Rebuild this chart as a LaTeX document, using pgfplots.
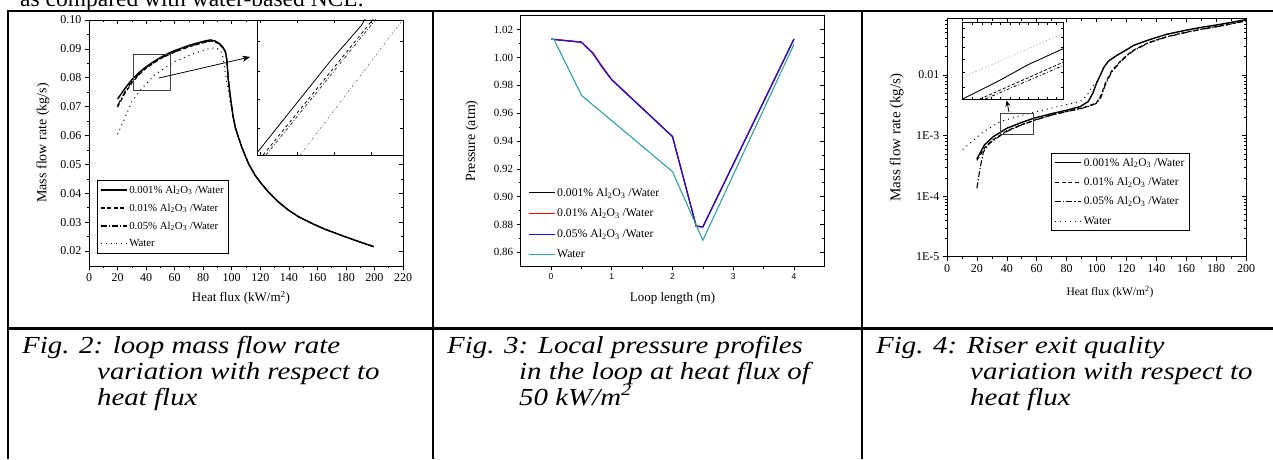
\documentclass[border=0pt]{standalone}
\usepackage{pgfplots}
\pgfplotsset{compat=1.18}
\usepackage{fontspec}
\setmainfont{Liberation Serif}
\newfontfamily\arialfont{Liberation Sans}
\newfontfamily\capfont[FakeStretch=1.18]{Liberation Serif}
\usetikzlibrary{arrows.meta}
\newcommand{\fs}[1]{\fontsize{#1}{#1}\selectfont}
\definecolor{teal2}{RGB}{50,160,160}
\definecolor{blue2}{RGB}{20,20,220}

\pgfplotsset{
  base/.style={scale only axis, axis line style={line width=0.9pt},
    every tick/.style={black, line width=0.6pt}, major tick length=4pt, minor tick length=2.2pt,
    /pgf/number format/assume math mode=true, scaled ticks=false,
    ticklabel style={font=\fs{12}}, label style={font=\fs{13.5}}},
  outerax/.style={base, tick align=outside, tick pos=left},
  innerax/.style={base, tick align=inside, axis x line*=top, axis y line*=right,
    xticklabels={}, yticklabels={}},
  legimg/.style={legend image code/.code={\draw[##1] (0pt,0pt) -- (26pt,0pt);}},
  s1/.style={black, line width=1.4pt},
  s2/.style={black, line width=1.1pt, dash pattern=on 4pt off 2.5pt},
  s3/.style={black, line width=1.1pt, dash pattern=on 6pt off 2pt on 1.2pt off 2pt},
  s4/.style={black, line width=1.0pt, dash pattern=on 1pt off 4pt},
}

\begin{document}
\begin{tikzpicture}
\useasboundingbox (0pt,0pt) rectangle (1273pt,459pt);
\clip (0pt,0pt) rectangle (1273pt,459pt);

% text of the page above the table
\node[anchor=base west, inner sep=0pt, font=\fs{23.5}] at (20pt,452.5pt) {as compared with water-based NCL.};

% ---------- Fig. 2 ----------
\begin{scope}
\clip (0pt,0pt) rectangle (411pt,459pt);
\begin{axis}[outerax, at={(89pt,193pt)}, anchor=south west, width=314pt, height=246pt,
  xmin=0, xmax=220, ymin=0.0148, ymax=0.10,
  xtick={0,20,40,60,80,100,120,140,160,180,200,220},
  ytick={0.02,0.03,0.04,0.05,0.06,0.07,0.08,0.09,0.10},
  minor x tick num=1, minor y tick num=1,
  yticklabel style={/pgf/number format/fixed, /pgf/number format/fixed zerofill, /pgf/number format/precision=2},
  xlabel={Heat flux (kW/m\textsuperscript{2})}, ylabel={Mass flow rate (kg/s)},
  xlabel style={at={(axis description cs:0.484,-0.13)}, anchor=center, font=\fs{13}},
  ylabel style={at={(axis description cs:-0.1465,0.5)}, anchor=center, font=\fs{14}},
  legimg,
  legend style={at={(0.0245,0.0516)}, anchor=south west, draw=black, fill=white,
    font=\fs{10.8}, row sep=5pt, inner xsep=3pt, inner ysep=3pt, cells={anchor=west}},
]
\addplot[s1] coordinates {(20,0.0726) (25,0.0762) (30,0.0793) (35,0.0818) (40,0.0838) (45,0.0855)
  (50,0.0870) (55,0.0883) (60,0.0894) (70,0.0912) (80,0.0926) (85,0.0931) (88,0.0928) (91,0.0920)
  (93.5,0.0908) (95.5,0.0892) (96.5,0.0865) (97.5,0.0800) (98.5,0.0755) (100,0.0700) (101.1,0.0662)
  (102.5,0.0628) (104.6,0.0595) (107,0.0560) (109.3,0.0532) (112,0.0500) (116.3,0.0463) (120,0.0438)
  (125.6,0.0405) (132,0.0373) (139.6,0.0342) (147,0.0318) (156,0.0296) (165,0.0276) (174.7,0.0258)
  (187,0.0236) (199.5,0.0215)};
\addlegendentry{0.001\% Al\textsubscript{2}O\textsubscript{3} /Water}
\addplot[s2] coordinates {(20,0.0698) (25,0.0745) (30,0.0782) (35,0.0810) (40,0.0833) (50,0.0866)
  (60,0.0889) (70,0.0907) (80,0.0921) (85,0.0927) (88,0.0925) (91,0.0917) (93.5,0.0905) (95.5,0.0890)
  (96.5,0.0865) (97.5,0.0800) (98.5,0.0755) (100,0.0700) (101.1,0.0662) (102.5,0.0628) (104.6,0.0595)
  (107,0.0560) (109.3,0.0532) (112,0.0500) (116.3,0.0463) (120,0.0438) (125.6,0.0405) (132,0.0373)
  (139.6,0.0342) (147,0.0318) (156,0.0296) (165,0.0276) (174.7,0.0258) (187,0.0236) (199.5,0.0215)};
\addlegendentry{0.01\% Al\textsubscript{2}O\textsubscript{3} /Water}
\addplot[s3] coordinates {(20,0.0703) (25,0.0750) (30,0.0786) (35,0.0813) (40,0.0835) (50,0.0867)
  (60,0.0890) (70,0.0908) (80,0.0922) (85,0.0928) (88,0.0926) (91,0.0918) (93.5,0.0906) (95.5,0.0891)
  (96.5,0.0865) (97.5,0.0800) (98.5,0.0755) (100,0.0700) (101.1,0.0662) (102.5,0.0628) (104.6,0.0595)
  (107,0.0560) (109.3,0.0532) (112,0.0500) (116.3,0.0463) (120,0.0438) (125.6,0.0405) (132,0.0373)
  (139.6,0.0342) (147,0.0318) (156,0.0296) (165,0.0276) (174.7,0.0258) (187,0.0236) (199.5,0.0215)};
\addlegendentry{0.05\% Al\textsubscript{2}O\textsubscript{3} /Water}
\addplot[s4] coordinates {(20,0.0604) (24,0.0648) (30,0.0717) (37,0.0763) (46,0.0810) (60,0.0856)
  (74,0.0885) (85,0.0902) (89,0.0903) (92,0.0895) (93.5,0.0880) (94.5,0.0850) (96.5,0.0787)
  (98.8,0.0717) (101,0.0668) (103,0.0625) (104.6,0.0595) (107,0.0560) (109.3,0.0532) (112,0.0500)
  (116.3,0.0463) (120,0.0438) (125.6,0.0405) (132,0.0373) (139.6,0.0342) (147,0.0318) (156,0.0296)
  (165,0.0276) (174.7,0.0258) (187,0.0236) (199.5,0.0215)};
\addlegendentry{Water}
\draw[line width=0.8pt, black!75] (axis cs:31,0.0755) rectangle (axis cs:57,0.0882);
\draw[line width=0.8pt, -{Stealth[length=8pt,width=6pt]}] (axis cs:49,0.0799) -- (axis cs:113,0.0872);
\end{axis}
\begin{axis}[innerax, at={(89pt,193pt)}, anchor=south west, width=314pt, height=246pt,
  xmin=0, xmax=220, ymin=0.0148, ymax=0.10,
  xtick={0,20,40,60,80,100,120,140,160,180,200,220},
  ytick={0.02,0.03,0.04,0.05,0.06,0.07,0.08,0.09,0.10},
  minor x tick num=1, minor y tick num=1]
\end{axis}
% inset of Fig. 2
\begin{axis}[base, tick align=inside, at={(257pt,304pt)}, anchor=south west, width=146pt, height=135pt,
  xmin=31, xmax=57, ymin=0.0755, ymax=0.0882, major tick length=3pt,
  xtick={31.5,38.1,44.7,51.4}, ytick={0.0780,0.0807,0.0834,0.0862},
  xticklabels={}, yticklabels={}, axis background/.style={fill=white}]
\addplot[black, line width=0.8pt] coordinates {(31,0.0757) (38.1,0.0804) (44,0.0843) (49.6,0.0877) (50.5,0.0885)};
\addplot[black, line width=0.8pt, dash pattern=on 3pt off 3pt] coordinates {(32.1,0.0755) (50.8,0.0877) (52,0.0885)};
\addplot[black!80, line width=0.8pt, dash pattern=on 3pt off 2pt on 0.8pt off 2pt] coordinates {(32.6,0.0755) (51.3,0.0877) (52.5,0.0885)};
\addplot[black!45, line width=0.8pt, dash pattern=on 2pt off 2pt on 0.6pt off 2pt] coordinates {(38.7,0.0755) (56.2,0.0877) (57.5,0.0886)};
\end{axis}
\end{scope}

% ---------- Fig. 3 ----------
\begin{axis}[outerax, at={(520.7pt,192.7pt)}, anchor=south west, width=303.6pt, height=250.6pt,
  xmin=-0.5, xmax=4.5, ymin=0.85, ymax=1.03,
  xtick={0,1,2,3,4}, ytick={0.86,0.88,0.90,0.92,0.94,0.96,0.98,1.00,1.02},
  minor x tick num=1, minor y tick num=1,
  xticklabel style={font=\arialfont\fs{8.5}},
  yticklabel style={font=\fs{11}, /pgf/number format/fixed, /pgf/number format/fixed zerofill, /pgf/number format/precision=2},
  xlabel={Loop length (m)}, ylabel={Pressure (atm)},
  xlabel style={at={(axis description cs:0.5,-0.128)}, anchor=center, font=\fs{13}},
  ylabel style={at={(axis description cs:-0.161,0.5)}, anchor=center, font=\fs{14}},
  legimg,
  legend style={at={(0.017,0.012)}, anchor=south west, draw=none, fill=none,
    font=\fs{11.7}, row sep=7pt, inner xsep=2pt, inner ysep=2pt, cells={anchor=west}},
]
\addplot[black, line width=1.1pt] coordinates {(0,1.0132) (0.5,1.0110) (0.69,1.0029) (0.85,0.9926)
  (1.0,0.9840) (1.5,0.9636) (2.0,0.9432) (2.39,0.8788) (2.5,0.8783) (4.0,1.0132)};
\addlegendentry{0.001\% Al\textsubscript{2}O\textsubscript{3} /Water}
\addplot[red, line width=1.1pt] coordinates {(0,1.0132) (0.5,1.0111) (0.69,1.0033) (0.85,0.9930)
  (1.0,0.9842) (1.5,0.9637) (2.0,0.9433) (2.39,0.8790) (2.5,0.8785) (4.0,1.0133)};
\addlegendentry{0.01\% Al\textsubscript{2}O\textsubscript{3} /Water}
\addplot[blue2, line width=1.1pt] coordinates {(0,1.0131) (0.5,1.0109) (0.69,1.0028) (0.85,0.9924)
  (1.0,0.9839) (1.5,0.9635) (2.0,0.9431) (2.39,0.8787) (2.5,0.8782) (4.0,1.0131)};
\addlegendentry{0.05\% Al\textsubscript{2}O\textsubscript{3} /Water}
\addplot[teal2, line width=1.1pt] coordinates {(0,1.0132) (0.05,1.0128) (0.5,0.9728) (2.0,0.9180)
  (2.5,0.8687) (4.0,1.0094)};
\addlegendentry{Water}
\end{axis}
\begin{axis}[innerax, at={(520.7pt,192.7pt)}, anchor=south west, width=303.6pt, height=250.6pt,
  xmin=-0.5, xmax=4.5, ymin=0.85, ymax=1.03, xtick=\empty,
  ytick={0.86,0.88,0.90,0.92,0.94,0.96,0.98,1.00,1.02}, minor y tick num=1]
\end{axis}

% ---------- Fig. 4 ----------
\begin{axis}[outerax, ymode=log, at={(947pt,202.3pt)}, anchor=south west, width=299pt, height=238.4pt,
  xmin=0, xmax=200, ymin=1e-5, ymax=0.0863,
  xtick={0,20,40,60,80,100,120,140,160,180,200}, minor x tick num=1,
  ytick={1e-5,1e-4,1e-3,1e-2}, yticklabels={1E-5,1E-4,1E-3,0.01},
  minor ytick={2e-5,3e-5,4e-5,5e-5,6e-5,7e-5,8e-5,9e-5,2e-4,3e-4,4e-4,5e-4,6e-4,7e-4,8e-4,9e-4,
    2e-3,3e-3,4e-3,5e-3,6e-3,7e-3,8e-3,9e-3,2e-2,3e-2,4e-2,5e-2,6e-2,7e-2,8e-2},
  xlabel={Heat flux (kW/m\textsuperscript{2})}, ylabel={Mass flow rate (kg/s)},
  xlabel style={at={(axis description cs:0.545,-0.148)}, anchor=center, font=\fs{11.5}},
  ylabel style={at={(axis description cs:-0.168,0.5)}, anchor=center, font=\fs{15}},
  legimg,
  legend style={at={(0.349,0.109)}, anchor=south west, draw=black, fill=white,
    font=\fs{11.5}, row sep=6pt, inner xsep=3pt, inner ysep=3pt, cells={anchor=west}},
]
\addplot[s1] coordinates {(20,4.1e-4) (25,7.0e-4) (31,9.6e-4) (40,1.32e-3) (50,1.65e-3) (58,1.93e-3)
  (70,2.30e-3) (80,2.62e-3) (89,3.0e-3) (94.5,3.65e-3) (97.5,5.0e-3) (100,7.3e-3) (103,1.05e-2)
  (105,1.35e-2) (108,1.7e-2) (113.5,2.1e-2) (120,2.6e-2) (125,3.1e-2) (135,3.8e-2) (147,4.7e-2)
  (160,5.5e-2) (170,6.1e-2) (185,7.0e-2) (200,8.2e-2)};
\addlegendentry{0.001\% Al\textsubscript{2}O\textsubscript{3} /Water}
\addplot[s2] coordinates {(20,3.9e-4) (25,6.2e-4) (30,8.3e-4) (40,1.2e-3) (50,1.52e-3) (60,1.85e-3)
  (70,2.2e-3) (80,2.5e-3) (90,2.85e-3) (95,3.1e-3) (100,3.5e-3) (103,4.6e-3) (106,7.5e-3)
  (110,1.15e-2) (115,1.6e-2) (120,2.1e-2) (125,2.6e-2) (135,3.45e-2) (147,4.3e-2) (160,5.1e-2)
  (170,5.7e-2) (185,6.6e-2) (200,7.8e-2)};
\addlegendentry{0.01\% Al\textsubscript{2}O\textsubscript{3} /Water}
\addplot[s3] coordinates {(20,1.35e-4) (22,2.8e-4) (24.3,5.3e-4) (27,6.8e-4) (30,8.0e-4) (40,1.17e-3)
  (50,1.5e-3) (60,1.83e-3) (70,2.18e-3) (80,2.48e-3) (90,2.8e-3) (95,3.05e-3) (100,3.4e-3)
  (103,4.3e-3) (106,7.0e-3) (110,1.1e-2) (115,1.55e-2) (120,2.05e-2) (125,2.55e-2) (135,3.4e-2)
  (147,4.25e-2) (160,5.05e-2) (170,5.65e-2) (185,6.55e-2) (200,7.9e-2)};
\addlegendentry{0.05\% Al\textsubscript{2}O\textsubscript{3} /Water}
\addplot[s4] coordinates {(10.5,5.9e-4) (24.3,1.15e-3) (35.5,1.7e-3) (51,2.19e-3) (69,2.82e-3)
  (89,3.63e-3) (92,4.2e-3) (94.5,5.0e-3) (96.8,6.4e-3) (100,7.6e-3) (103,1.05e-2) (105,1.35e-2)
  (108,1.7e-2) (113.5,2.1e-2) (120,2.6e-2) (125,3.1e-2) (135,3.8e-2) (147,4.7e-2) (160,5.5e-2)
  (170,6.1e-2) (185,7.0e-2) (200,8.2e-2)};
\addlegendentry{Water}
\draw[line width=0.8pt, black!75] (axis cs:35.9,1.06e-3) rectangle (axis cs:57.5,2.33e-3);
\draw[line width=0.8pt, -{Stealth[length=6pt,width=5pt]}] (axis cs:41.5,2.45e-3) -- (axis cs:39.9,3.8e-3);
\end{axis}
\begin{axis}[innerax, ymode=log, at={(947pt,202.3pt)}, anchor=south west, width=299pt, height=238.4pt,
  xmin=0, xmax=200, ymin=1e-5, ymax=0.0863,
  xtick={0,20,40,60,80,100,120,140,160,180,200}, minor x tick num=1,
  ytick={1e-5,1e-4,1e-3,1e-2},
  minor ytick={2e-5,3e-5,4e-5,5e-5,6e-5,7e-5,8e-5,9e-5,2e-4,3e-4,4e-4,5e-4,6e-4,7e-4,8e-4,9e-4,
    2e-3,3e-3,4e-3,5e-3,6e-3,7e-3,8e-3,9e-3,2e-2,3e-2,4e-2,5e-2,6e-2,7e-2,8e-2}]
\end{axis}
% inset of Fig. 4
\begin{axis}[base, ymode=log, tick align=inside, at={(962.7pt,360pt)}, anchor=south west, width=101pt, height=76.7pt,
  xmin=35.9, xmax=57.5, ymin=1.062e-3, ymax=2.33e-3, major tick length=2.5pt,
  xtick={38,40,42,44,46,48,50,52,54,56}, ytick={1.2e-3,1.4e-3,1.6e-3,1.8e-3,2.0e-3,2.2e-3},
  xticklabels={}, yticklabels={}, axis background/.style={fill=white}]
\addplot[black, line width=0.9pt] coordinates {(35.9,1.062e-3) (43.9,1.288e-3) (50,1.514e-3) (57.5,1.782e-3)};
\addplot[black, line width=0.8pt, dash pattern=on 3pt off 2pt] coordinates {(39.6,1.062e-3) (57.5,1.552e-3)};
\addplot[black, line width=0.8pt, dash pattern=on 3pt off 2pt on 0.8pt off 2pt] coordinates {(40.7,1.062e-3) (57.5,1.50e-3)};
\addplot[black!35, line width=0.8pt, dash pattern=on 1pt off 2.5pt] coordinates {(35.9,1.327e-3) (57.5,2.084e-3)};
\end{axis}

% ---------- table rules ----------
\draw[line width=2.2pt] (7pt,448pt) -- (1273pt,448pt);
\draw[line width=3pt] (7pt,131pt) -- (1273pt,131pt);
\draw[line width=2.5pt] (8pt,0pt) -- (8pt,449pt);
\draw[line width=2pt] (433pt,0pt) -- (433pt,449pt);
\draw[line width=2pt] (862pt,0pt) -- (862pt,449pt);

% ---------- captions ----------
\begin{scope}[every node/.style={anchor=base west, inner sep=0pt, font=\capfont\fs{24.5}\itshape}]
\node at (22pt,106pt) {Fig. 2: loop mass flow rate};
\node at (97pt,80pt) {variation with respect to};
\node at (97pt,54pt) {heat flux};
\node at (447pt,106pt) {Fig. 3: Local pressure profiles};
\node at (519pt,80pt) {in the loop at heat flux of};
\node at (519pt,54pt) {50 kW/m\textsuperscript{2}};
\node at (876pt,106pt) {Fig. 4: Riser exit quality};
\node at (970pt,80pt) {variation with respect to};
\node at (970pt,54pt) {heat flux};
\end{scope}
\end{tikzpicture}
\end{document}
